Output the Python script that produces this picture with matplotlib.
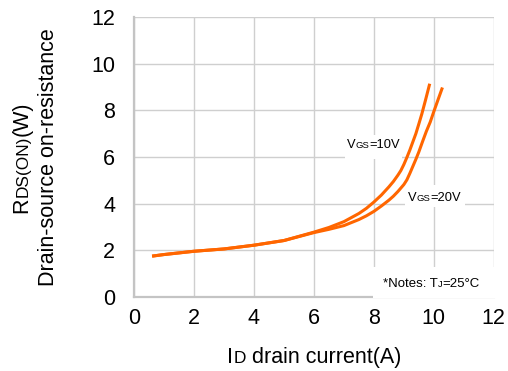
import matplotlib
matplotlib.use("Agg")
import matplotlib.pyplot as plt
from matplotlib import transforms
from matplotlib.font_manager import FontProperties
from matplotlib.patches import Rectangle

plt.rcParams["font.family"] = ["Liberation Sans", "DejaVu Sans"]

# drain current (A) vs RDS(on)
id_10v = [0.65, 1.0, 2.0, 3.0, 4.0, 5.0, 6.0, 6.5, 7.0, 7.5, 7.75, 8.0, 8.25, 8.5, 8.65,
          8.8, 8.9, 9.0, 9.1, 9.2, 9.3, 9.4, 9.5, 9.6, 9.72, 9.85]
rds_10v = [1.76, 1.82, 1.96, 2.06, 2.22, 2.42, 2.78, 2.98, 3.23, 3.58, 3.8, 4.07, 4.37, 4.72, 4.95,
           5.22, 5.42, 5.68, 5.98, 6.3, 6.65, 7.0, 7.42, 7.85, 8.43, 9.08]

id_20v = [0.65, 1.0, 2.0, 3.0, 4.0, 5.0, 6.0, 6.5, 7.0, 7.5, 7.75, 8.0, 8.25, 8.5, 8.65,
          8.8, 9.0, 9.1, 9.2, 9.3, 9.4, 9.5, 9.62, 9.75, 9.88, 10.0, 10.13, 10.27]
rds_20v = [1.76, 1.82, 1.96, 2.06, 2.22, 2.42, 2.76, 2.9, 3.06, 3.32, 3.48, 3.67, 3.9, 4.15, 4.32,
           4.52, 4.82, 5.02, 5.3, 5.6, 5.9, 6.22, 6.65, 7.1, 7.5, 7.95, 8.42, 8.92]

x_ticks = [0, 2, 4, 6, 8, 10, 12]
y_ticks = [0, 2, 4, 6, 8, 10, 12]

ORANGE = "#ff6600"
BIG, SMALL = 15.5, 12.4

fig = plt.figure(figsize=(5.08, 3.71), dpi=100)
ax = fig.add_axes([0.264, 0.1995, 0.708, 0.7545])

ax.plot(id_10v, rds_10v, color=ORANGE, lw=2.2, zorder=4, solid_joinstyle="round")
ax.plot(id_20v, rds_20v, color=ORANGE, lw=2.2, zorder=4, solid_joinstyle="round")

ax.set_xlim(0, 12)
ax.set_ylim(0, 12)
ax.set_xticks(x_ticks)
ax.set_yticks(y_ticks)
ax.tick_params(length=0, labelsize=BIG)
ax.tick_params(axis="y", pad=13.5)
ax.tick_params(axis="x", pad=8)
ax.grid(True, color="#cfcfcf", lw=1.0)
ax.set_axisbelow(True)
for side in ["top", "right"]:
    ax.spines[side].set_visible(False)
for side in ["left", "bottom"]:
    ax.spines[side].set_color("#c4c4c4")
    ax.spines[side].set_linewidth(1.6)

# white boxes behind the in-plot labels
for (x0, y0, w, h) in [(7.03, 5.9, 1.9, 1.05), (9.03, 3.85, 2.0, 0.95), (7.97, -0.06, 4.1, 1.35)]:
    ax.add_patch(Rectangle((x0, y0), w, h, facecolor="white", edgecolor="none",
                           zorder=3, clip_on=False))

fig.canvas.draw()
renderer = fig.canvas.get_renderer()


def rich_text(x, y, pieces, transform, rotation=0, ha="left"):
    """Draw text pieces of mixed size on one baseline."""
    widths = []
    for s, size in pieces:
        prop = FontProperties(family="Liberation Sans", size=size)
        w, _, _ = renderer.get_text_width_height_descent(s, prop, ismath=False)
        widths.append(w)
    start = -sum(widths) / 2 if ha == "center" else 0
    dx, dy = (0, 1) if rotation == 90 else (1, 0)
    pos = start
    for (s, size), w in zip(pieces, widths):
        tr = transforms.offset_copy(transform, fig=fig, x=pos * dx, y=pos * dy, units="dots")
        fig.text(x, y, s, transform=tr, fontsize=size, rotation=rotation,
                 rotation_mode="anchor", ha="left", va="baseline", zorder=6)
        pos += w


H = 371.0
W = 508.0
rich_text(27.3 / W, 1 - 157 / H, [("R", BIG), ("DS(ON)", SMALL), ("(W)", BIG)],
          fig.transFigure, rotation=90, ha="center")
rich_text(54.3 / W, 1 - 157 / H, [("Drain-source on-resistance", BIG)],
          fig.transFigure, rotation=90, ha="center")
rich_text(314.3 / W, 1 - 363.3 / H, [("I", BIG), ("D", SMALL), (" drain current(A)", BIG)],
          fig.transFigure, ha="center")

rich_text(347.3 / W, 1 - 148.3 / H, [("V", 9.3), ("GS", 6.8), ("=10V", 9.3)], fig.transFigure)
rich_text(408.3 / W, 1 - 201 / H, [("V", 9.3), ("GS", 6.8), ("=20V", 9.3)], fig.transFigure)
rich_text(382.7 / W, 1 - 287.3 / H, [("*Notes: T", 9.5), ("J", 6.8), ("=25°C", 9.5)], fig.transFigure)

fig.savefig("out.png", dpi=100)
